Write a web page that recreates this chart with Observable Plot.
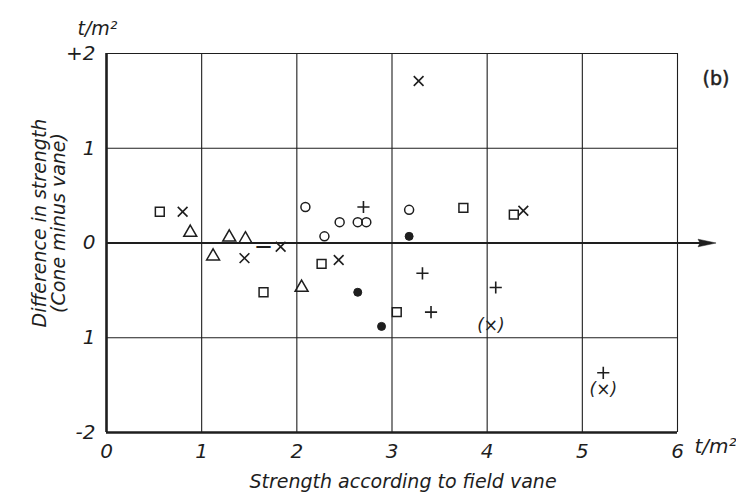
<!DOCTYPE html>
<html><head><meta charset="utf-8">
<script src="https://cdn.jsdelivr.net/npm/d3@7"></script>
<script src="https://cdn.jsdelivr.net/npm/@observablehq/plot@0.6"></script>
<style>body{margin:0;background:#fff}</style>
</head><body><div id="chart"></div>
<script>
// Axis ticks and labels
const xTicks = [0, 1, 2, 3, 4, 5, 6];
const xTickLabels = ["0", "1", "2", "3", "4", "5", "6"];
const yTicks = [-2, -1, 0, 1, 2];
const yTickLabels = ["-2", "1", "0", "1", "+2"];

// Data series: [field vane strength, difference (cone minus vane)]
const squares = [[0.56, 0.33], [1.65, -0.52], [2.26, -0.22], [3.05, -0.73], [3.75, 0.37], [4.28, 0.30]];
const crosses = [[0.80, 0.33], [1.45, -0.16], [1.83, -0.04], [2.44, -0.18], [3.28, 1.71], [4.38, 0.34]];
const dashes = [[1.65, -0.03]];
const triangles = [[0.88, 0.11], [1.12, -0.14], [1.29, 0.06], [1.46, 0.04], [2.05, -0.47]];
const openCircles = [[2.09, 0.38], [2.29, 0.07], [2.45, 0.22], [2.64, 0.22], [2.73, 0.22], [3.18, 0.35]];
const filledCircles = [[3.18, 0.07], [2.64, -0.52], [2.89, -0.88]];
const pluses = [[2.70, 0.38], [3.32, -0.32], [3.41, -0.73], [4.09, -0.47], [5.22, -1.37]];
const bracketCrosses = [[4.04, -0.87], [5.22, -1.55]];
const zeroAxis = [{x1: 0, x2: 6.3, y: 0}];
const arrowTip = [{x: 6.3, y: 0}];

const ink = "#1e1e1e";
const font = "DejaVu Sans";
const X = d => d[0], Y = d => d[1];

// narrow filled arrowhead pointing right
const arrowSymbol = {
  draw(ctx) {
    ctx.moveTo(10, 0);
    ctx.lineTo(-8, -3.8);
    ctx.lineTo(-6, 0);
    ctx.lineTo(-8, 3.8);
    ctx.closePath();
  }
};

const chart = Plot.plot({
  width: 736,
  height: 502,
  marginLeft: 106,
  marginRight: 59,
  marginTop: 53,
  marginBottom: 70,
  style: {fontFamily: font, fontStyle: "italic", color: ink, background: "#fff"},
  x: {domain: [0, 6]},
  y: {domain: [-2, 2]},
  marks: [
    Plot.ruleX(xTicks.filter(d => d > 0), {stroke: ink, strokeWidth: 1.1}),
    Plot.ruleY(yTicks.filter(d => d !== 0 && d !== -2), {stroke: ink, strokeWidth: 1.1}),
    Plot.ruleX([0], {stroke: ink, strokeWidth: 2.6}),
    Plot.ruleY([-2], {stroke: ink, strokeWidth: 2.6}),
    Plot.link(zeroAxis, {x1: "x1", x2: "x2", y1: "y", y2: "y", stroke: ink, strokeWidth: 2}),
    Plot.dot(arrowTip, {x: "x", y: "y", symbol: arrowSymbol, fill: ink, stroke: ink, strokeWidth: 0.5}),
    Plot.axisX({ticks: xTicks, tickFormat: d => xTickLabels[xTicks.indexOf(d)], tickSize: 0, tickPadding: 11, fontSize: 20, label: null}),
    Plot.axisY({ticks: yTicks, tickFormat: d => yTickLabels[yTicks.indexOf(d)], tickSize: 0, tickPadding: 11, fontSize: 20, label: null}),
    Plot.text(["t/m²"], {frameAnchor: "bottom-right", dx: 59, dy: 20, textAnchor: "end", fontSize: 20}),
    Plot.text(["t/m²"], {frameAnchor: "top-left", dx: -29, dy: -32, fontSize: 19}),
    Plot.text(["(b)"], {frameAnchor: "top-right", dx: 52, dy: 18, fontSize: 19, fontStyle: "normal", fill: ink, stroke: ink, strokeWidth: 0.5}),
    Plot.text(["Strength according to field vane"], {frameAnchor: "bottom", dx: 11, dy: 55, fontSize: 19, letterSpacing: 2}),
    Plot.text(["Difference in strength\n(Cone minus vane)"], {frameAnchor: "left", textAnchor: "middle", dx: -57, dy: -20, rotate: -90, fontSize: 19, lineHeight: 1.0, letterSpacing: 0.4}),
    Plot.dot(squares, {x: X, y: Y, symbol: "square", r: 5, fill: "none", stroke: ink, strokeWidth: 1.5}),
    Plot.dot(crosses, {x: X, y: Y, symbol: "times", r: 4.5, fill: "none", stroke: ink, strokeWidth: 1.6}),
    Plot.text(dashes, {x: X, y: Y, text: () => "—", fontSize: 16, fontStyle: "normal", fontWeight: "bold"}),
    Plot.dot(triangles, {x: X, y: Y, symbol: "triangle", r: 4.8, fill: "none", stroke: ink, strokeWidth: 1.5}),
    Plot.dot(openCircles, {x: X, y: Y, symbol: "circle", r: 4.5, fill: "none", stroke: ink, strokeWidth: 1.5}),
    Plot.dot(filledCircles, {x: X, y: Y, symbol: "circle", r: 4, fill: ink, stroke: ink, strokeWidth: 1}),
    Plot.dot(pluses, {x: X, y: Y, symbol: "plus", r: 4, fill: "none", stroke: ink, strokeWidth: 1.6}),
    Plot.text(bracketCrosses, {x: X, y: Y, text: () => "(×)", fontSize: 17})
  ]
});
document.getElementById("chart").appendChild(chart);
</script>
</body></html>
